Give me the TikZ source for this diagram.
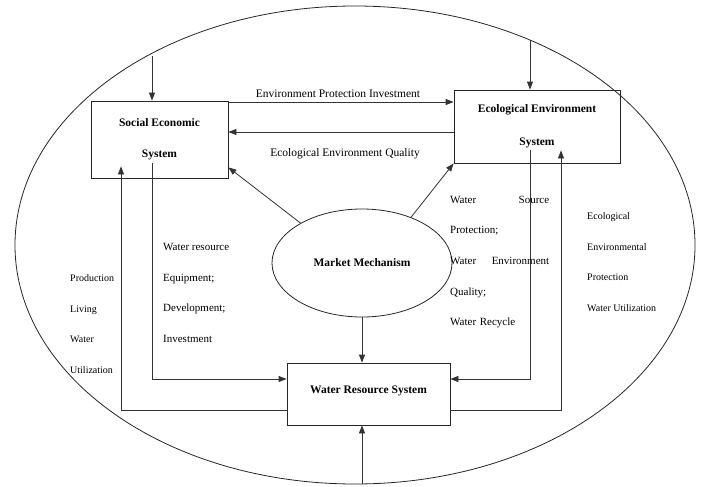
\documentclass[tikz,border=0pt]{standalone}
\usepackage{fontspec}
\setmainfont{Liberation Serif}
\usetikzlibrary{shapes.geometric,arrows.meta}

\tikzset{
  sysbox/.style={draw=black!85,line width=0.8pt,rectangle,align=center,font=\fontsize{11.5}{13}\selectfont\bfseries},
  flow/.style={draw=black!80,line width=0.8pt,-{Triangle[length=8pt,width=6pt]}},
  lbl/.style={align=left,anchor=west,inner sep=0pt,font=\fontsize{11}{30.6}\selectfont}
}

\begin{document}
\begin{tikzpicture}[x=1pt,y=-1pt]
        \useasboundingbox (0,0) rectangle (704,487);
        % outer boundary
        \node (env) at (355,245) [draw=black!85,line width=0.8pt,ellipse,minimum width=680pt,minimum height=478pt] {};
        % systems
        \node (soc) at (159.5,139.5) [sysbox,minimum width=137pt,minimum height=77pt] {Social Economic\\[18pt]System};
        \node (eco) at (537,126.5) [sysbox,minimum width=166pt,minimum height=73pt] {\raisebox{3pt}{\begin{tabular}{c}Ecological Environment\\[20pt]System\end{tabular}}};
        \node (mkt) at (362,263) [draw=black!85,line width=0.8pt,ellipse,minimum width=180pt,minimum height=108pt,font=\fontsize{11.5}{13}\selectfont\bfseries] {Market Mechanism};
        \node (wat) at (368.5,394) [sysbox,minimum width=163pt,minimum height=62pt] {\raisebox{8pt}{Water Resource System}};
        % inputs from the environment
        \coordinate (intop1) at (152,56);
        \coordinate (intop2) at (530,40);
        \coordinate (inbot) at (362,484);
        \draw [flow] (intop1) -- (intop1 |- soc.north);
        \draw [flow] (intop2) -- (intop2 |- eco.north);
        \draw [flow] (inbot) -- (inbot |- wat.south);
        % between the systems
        \draw [flow] ([yshift=37.5pt]soc.east) -- node [above=1pt,font=\fontsize{11.5}{13}\selectfont,xshift=-3pt] {Environment Protection Investment} ([yshift=24.5pt]eco.west);
        \draw [flow] ([yshift=-5.5pt]eco.west) -- node [below=13pt,font=\fontsize{11.5}{13}\selectfont,xshift=4pt] {Ecological Environment Quality} ([yshift=7.5pt]soc.east);
        % market mechanism
        \draw [flow] (mkt.147) -- ([yshift=11pt]soc.south east);
        \draw [flow] (mkt.43) -- (eco.south west);
        \draw [flow] (mkt.south) -- (mkt.south |- wat.north);
        % loops through the water resource system
        \draw [flow] ([xshift=-7.5pt,yshift=15pt]soc.south) |- ([yshift=15pt]wat.west);
        \draw [flow] ([yshift=-16pt]wat.west) -| ([xshift=-38.5pt,yshift=12pt]soc.south);
        \draw [flow] ([xshift=-7pt,yshift=13pt]eco.south) |- ([yshift=15pt]wat.east);
        \draw [flow] ([yshift=-16pt]wat.east) -| ([xshift=24pt,yshift=13pt]eco.south);
        % labels
        \node (lblleft) at (70,324) [lbl,font=\fontsize{10}{30.6}\selectfont] {Production\\Living\\Water\\Utilization};
        \node (lblsoc) at (163,293) [lbl] {Water resource\\Equipment;\\Development;\\Investment};
        \node (lbleco) at (450,262) [lbl,text width=99pt] {Water\hfill Source\\Protection;\\Water\hfill Environment\\Quality;\\Water Recycle};
        \node (lblright) at (587,262) [lbl,font=\fontsize{10}{30.6}\selectfont] {Ecological\\Environmental\\Protection\\Water Utilization};
\end{tikzpicture}
\end{document}
